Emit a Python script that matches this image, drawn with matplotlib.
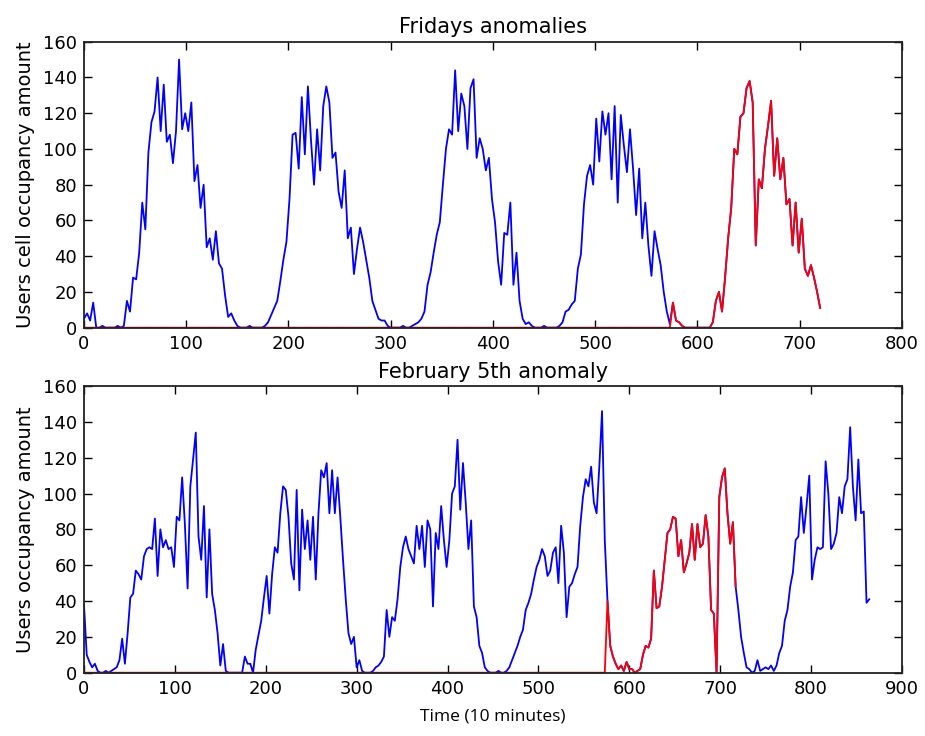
import numpy as np
import matplotlib
matplotlib.use('Agg')
import matplotlib.pyplot as plt

# one sample every 3 time slots (10 minutes each)
STEP = 3

fridays = [
    5, 8, 4, 14, 0, 0, 1, 0, 0, 0,
    0, 1, 0, 1, 15, 9, 28, 27, 42, 70,
    55, 98, 115, 121, 140, 110, 136, 104, 108, 92,
    110, 150, 111, 120, 110, 126, 82, 91, 67, 80,
    45, 50, 38, 54, 36, 33, 18, 6, 8, 4,
    1, 0, 0, 0, 1, 0, 0, 0, 0, 1,
    3, 7, 11, 15, 26, 38, 48, 72, 108, 109,
    89, 129, 97, 135, 105, 80, 111, 88, 124, 135,
    126, 95, 98, 76, 67, 88, 50, 56, 30, 44,
    56, 48, 38, 28, 15, 10, 5, 4, 4, 1,
    0, 0, 0, 0, 1, 0, 0, 1, 2, 3,
    5, 9, 24, 31, 42, 52, 59, 80, 100, 111,
    108, 144, 110, 131, 124, 100, 134, 139, 95, 106,
    100, 88, 95, 72, 59, 37, 24, 53, 52, 70,
    24, 42, 15, 5, 2, 3, 1, 0, 0, 0,
    1, 0, 0, 0, 0, 1, 3, 9, 10, 13,
    15, 33, 41, 69, 85, 91, 80, 117, 93, 121,
    108, 120, 83, 124, 70, 119, 102, 87, 111, 89,
    63, 89, 50, 70, 46, 29, 54, 44, 35, 20,
    9, 2, 14, 4, 3, 1, 0, 0, 0, 0,
    0, 0, 0, 0, 0, 3, 15, 20, 9, 28,
    50, 67, 100, 97, 118, 120, 134, 138, 126, 46,
    83, 78, 100, 113, 127, 85, 106, 83, 95, 69,
    72, 46, 70, 42, 61, 33, 29, 35, 28, 20,
    11,
]

feb5 = [
    38, 10, 6, 3, 5, 1, 0, 0, 1, 0,
    1, 2, 3, 7, 19, 5, 22, 42, 44, 57,
    55, 52, 65, 69, 70, 69, 86, 54, 80, 70,
    74, 69, 70, 59, 87, 85, 109, 83, 47, 104,
    119, 134, 76, 63, 93, 42, 80, 44, 35, 22,
    4, 16, 1, 0, 0, 0, 0, 0, 0, 9,
    5, 5, 0, 13, 21, 29, 42, 54, 33, 55,
    70, 67, 89, 104, 102, 87, 61, 52, 102, 46,
    91, 69, 85, 63, 87, 52, 89, 113, 109, 117,
    89, 113, 89, 109, 87, 63, 41, 22, 16, 20,
    3, 7, 1, 0, 0, 0, 1, 3, 4, 6,
    9, 35, 20, 31, 29, 41, 59, 70, 76, 69,
    65, 61, 82, 69, 82, 59, 85, 80, 37, 78,
    69, 93, 74, 59, 74, 100, 104, 130, 91, 117,
    95, 69, 85, 37, 31, 15, 11, 3, 1, 0,
    0, 0, 1, 0, 0, 1, 3, 7, 11, 15,
    20, 24, 35, 39, 44, 52, 59, 63, 69, 65,
    54, 57, 67, 70, 50, 82, 67, 31, 48, 50,
    55, 59, 82, 98, 108, 104, 115, 95, 89, 115,
    146, 74, 40, 15, 9, 5, 2, 4, 1, 6,
    2, 2, 0, 1, 2, 10, 15, 14, 19, 57,
    36, 37, 48, 63, 78, 80, 87, 86, 65, 74,
    56, 61, 67, 83, 63, 83, 70, 72, 88, 76,
    35, 33, 0, 98, 109, 114, 89, 72, 84, 48,
    35, 20, 11, 3, 2, 0, 1, 7, 1, 2,
    3, 2, 4, 1, 4, 11, 15, 29, 35, 48,
    56, 74, 76, 98, 78, 93, 110, 52, 63, 70,
    69, 70, 118, 100, 69, 72, 78, 98, 89, 104,
    108, 137, 104, 85, 119, 89, 90, 39, 41,
]

# anomaly windows (time slot index)
fridays_anom_start = 576
feb5_anom_start = 576
feb5_anom_end = 717

x_fri = np.arange(len(fridays)) * STEP
y_fri = np.array(fridays, dtype=float)
red_fri = np.where(x_fri < fridays_anom_start, 0.0, y_fri)

x_feb = np.arange(len(feb5)) * STEP
y_feb = np.array(feb5, dtype=float)
red_feb = np.where(x_feb < feb5_anom_start, 0.0,
                   np.where(x_feb <= feb5_anom_end, y_feb, np.nan))

fig = plt.figure(figsize=(9.25, 7.36), dpi=100)
ax1 = fig.add_axes([0.0908, 0.5548, 0.8843, 0.3885])
ax2 = fig.add_axes([0.0908, 0.0860, 0.8843, 0.3895])


def style(ax):
    ax.set_ylim(0, 160)
    ax.set_yticks(np.arange(0, 161, 20))
    ax.tick_params(direction='in', top=True, right=True, length=6, width=1,
                   labelsize=13, pad=5)
    for s in ax.spines.values():
        s.set_linewidth(1.3)
        s.set_color('#222222')


ax1.plot(x_fri, y_fri, color='#0000ff', lw=1.3)
ax1.plot(x_fri, red_fri, color='#ff0000', lw=1.3)
ax1.set_xlim(0, 800)
ax1.set_xticks(np.arange(0, 801, 100))
style(ax1)
ax1.set_title('Fridays anomalies', fontsize=15, pad=6)
ax1.set_ylabel('Users cell occupancy amount', fontsize=14, labelpad=6)

ax2.plot(x_feb, y_feb, color='#0000ff', lw=1.3)
ax2.plot(x_feb, red_feb, color='#ff0000', lw=1.3)
ax2.set_xlim(0, 900)
ax2.set_xticks(np.arange(0, 901, 100))
style(ax2)
ax2.set_title('February 5th anomaly', fontsize=15, pad=6)
ax2.set_ylabel('Users occupancy amount', fontsize=14, labelpad=6)
ax2.set_xlabel('Time (10 minutes)', fontsize=12.5, family='Open Sans', labelpad=8)

fig.savefig('out.png', dpi=100)
